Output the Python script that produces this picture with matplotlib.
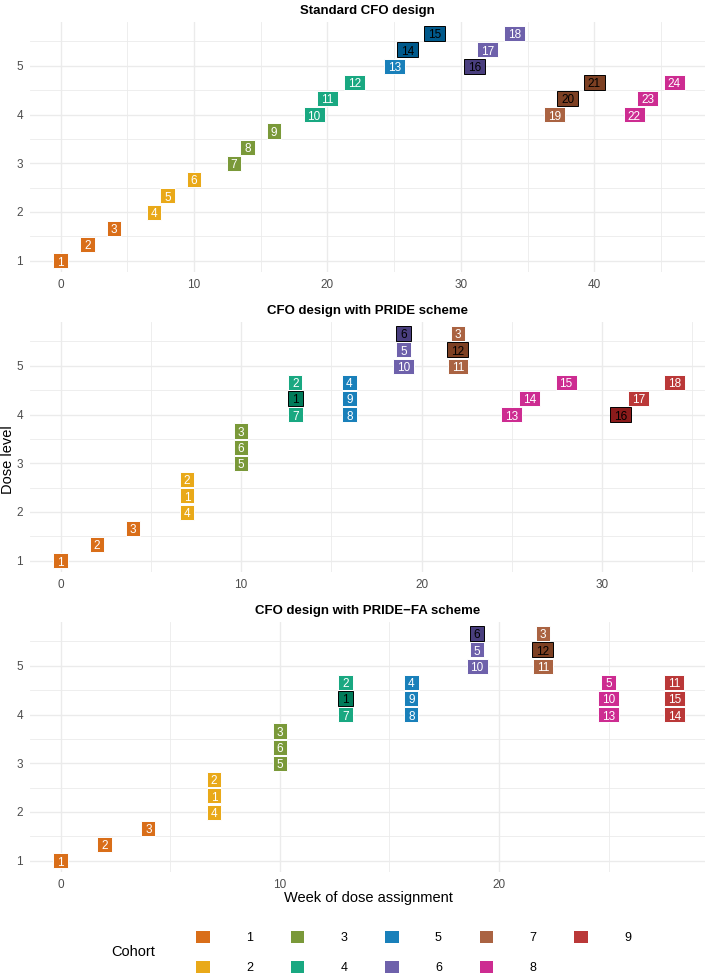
import numpy as np
import matplotlib
matplotlib.use("Agg")
import matplotlib.pyplot as plt
from matplotlib.patches import Patch
from matplotlib.path import Path
from matplotlib.colors import to_rgb
from matplotlib.transforms import ScaledTranslation

plt.rcParams['font.family'] = ['Liberation Sans', 'DejaVu Sans']

# cohort colours
cohort_colors = ["#D55E00", "#E69F00", "#6B8E23", "#009E73", "#0072B2",
                 "#5E4FA2", "#A0522D", "#C71585", "#B22222"]
cohort_names = ["1", "2", "3", "4", "5", "6", "7", "8", "9"]

# panel 1: standard CFO design
p1_title = "Standard CFO design"
p1_week = [0, 2, 4, 7, 8, 10, 13, 14, 16, 19, 20, 22,
           25, 26, 28, 31, 32, 34, 37, 38, 40, 43, 44, 46]
p1_dose = [1, 1, 1, 2, 2, 2, 3, 3, 3, 4, 4, 4,
           5, 5, 5, 5, 5, 5, 4, 4, 4, 4, 4, 4]
p1_slot = [0, 1, 2] * 8
p1_label = list(range(1, 25))
p1_cohort = [1, 1, 1, 2, 2, 2, 3, 3, 3, 4, 4, 4,
             5, 5, 5, 6, 6, 6, 7, 7, 7, 8, 8, 8]
p1_dlt = [0, 0, 0, 0, 0, 0, 0, 0, 0, 0, 0, 0,
          0, 1, 1, 1, 0, 0, 0, 1, 1, 0, 0, 0]
p1_xticks = [0, 10, 20, 30, 40]

# panel 2: PRIDE scheme
p2_title = "CFO design with PRIDE scheme"
p2_week = [0, 2, 4, 7, 7, 7, 10, 10, 10, 13, 13, 13, 16, 16, 16,
           19, 19, 19, 22, 22, 22, 25, 26, 28, 31, 32, 34]
p2_dose = [1, 1, 1, 2, 2, 2, 3, 3, 3, 4, 4, 4, 4, 4, 4,
           5, 5, 5, 5, 5, 5, 4, 4, 4, 4, 4, 4]
p2_slot = [0, 1, 2] * 9
p2_label = [1, 2, 3, 4, 1, 2, 5, 6, 3, 7, 1, 2, 8, 9, 4,
            10, 5, 6, 11, 12, 3, 13, 14, 15, 16, 17, 18]
p2_cohort = [1, 1, 1, 2, 2, 2, 3, 3, 3, 4, 4, 4, 5, 5, 5,
             6, 6, 6, 7, 7, 7, 8, 8, 8, 9, 9, 9]
p2_dlt = [0, 0, 0, 0, 0, 0, 0, 0, 0, 0, 1, 0, 0, 0, 0,
          0, 0, 1, 0, 1, 0, 0, 0, 0, 1, 0, 0]
p2_xticks = [0, 10, 20, 30]

# panel 3: PRIDE-FA scheme
p3_title = "CFO design with PRIDE\u2212FA scheme"
p3_week = [0, 2, 4, 7, 7, 7, 10, 10, 10, 13, 13, 13, 16, 16, 16,
           19, 19, 19, 22, 22, 22, 25, 25, 25, 28, 28, 28]
p3_dose = [1, 1, 1, 2, 2, 2, 3, 3, 3, 4, 4, 4, 4, 4, 4,
           5, 5, 5, 5, 5, 5, 4, 4, 4, 4, 4, 4]
p3_slot = [0, 1, 2] * 9
p3_label = [1, 2, 3, 4, 1, 2, 5, 6, 3, 7, 1, 2, 8, 9, 4,
            10, 5, 6, 11, 12, 3, 13, 10, 5, 14, 15, 11]
p3_cohort = [1, 1, 1, 2, 2, 2, 3, 3, 3, 4, 4, 4, 5, 5, 5,
             6, 6, 6, 7, 7, 7, 8, 8, 8, 9, 9, 9]
p3_dlt = [0, 0, 0, 0, 0, 0, 0, 0, 0, 0, 1, 0, 0, 0, 0,
          0, 0, 1, 0, 1, 0, 0, 0, 0, 0, 0, 0]
p3_xticks = [0, 10, 20]

W, H = 709, 974
fig = plt.figure(figsize=(W / 100, H / 100), dpi=100)


def lighten(c, a=0.9):
    r = np.array(to_rgb(c))
    return tuple(r * a + (1 - a))


def darken(c, f=0.78):
    return tuple(np.array(to_rgb(c)) * f)


# label box: wider sideways, shifted up so digits sit in the middle
def label_box(x0, y0, width, height, mutation_size):
    px = 0.33 * mutation_size
    x0, x1 = x0 - px, x0 + width + px
    y1 = y0 + height + 0.28 * mutation_size
    y0 = y0 + 0.02 * mutation_size
    return Path([(x0, y0), (x1, y0), (x1, y1), (x0, y1), (x0, y0)], closed=True)


def panel(top, title, week, dose, slot, label, cohort, dlt, xticks):
    ax = fig.add_axes([30 / W, 1 - (top + 250) / H, 675 / W, 250 / H])
    xmax = max(week)
    ax.set_xlim(-0.05 * xmax, xmax * 1.05)
    ax.set_ylim(1 - 0.05 * 14 / 3, 17 / 3 + 0.05 * 14 / 3)
    ax.set_xticks(xticks)
    ax.set_xticks(np.arange(5, xmax * 1.05, 10), minor=True)
    ax.set_yticks([1, 2, 3, 4, 5])
    ax.set_yticks([1.5, 2.5, 3.5, 4.5, 5.5], minor=True)
    ax.grid(True, which='major', color='#EBEBEB', lw=1.0)
    ax.grid(True, which='minor', color='#EBEBEB', lw=0.6)
    ax.set_axisbelow(True)
    for s in ax.spines.values():
        s.set_visible(False)
    ax.tick_params(which='both', length=0, labelsize=8.5, labelcolor='#4D4D4D', pad=5)
    ax.set_title(title, fontsize=9.5, fontweight='bold', pad=6)
    shift = ax.transData + ScaledTranslation(0, -0.02, fig.dpi_scale_trans)
    for w, d, s, lab, c, t in zip(week, dose, slot, label, cohort, dlt):
        col = cohort_colors[c - 1]
        if t:
            fc, ec, tc = darken(col), 'black', 'black'
        else:
            fc, ec, tc = lighten(col), 'white', 'white'
        ax.text(w, d + s / 3, str(lab), ha='center', va='center',
                fontsize=8.5, color=tc, transform=shift,
                bbox=dict(boxstyle=label_box, fc=fc, ec=ec, lw=0.7))
    return ax


panel(22, p1_title, p1_week, p1_dose, p1_slot, p1_label, p1_cohort, p1_dlt, p1_xticks)
panel(322, p2_title, p2_week, p2_dose, p2_slot, p2_label, p2_cohort, p2_dlt, p2_xticks)
panel(622, p3_title, p3_week, p3_dose, p3_slot, p3_label, p3_cohort, p3_dlt, p3_xticks)

fig.text(8 / W, 1 - 460 / H, "Dose level", rotation=90, ha='center', va='center', fontsize=10.5)
fig.text(368 / W, 1 - 898 / H, "Week of dose assignment", ha='center', va='center', fontsize=10.5)

handles = [Patch(fc=lighten(c), ec='none') for c in cohort_colors]
fig.legend(handles, cohort_names, ncol=5, loc='upper left',
           bbox_to_anchor=(196 / W, 1 - 931 / H), frameon=False,
           borderpad=0, borderaxespad=0, fontsize=9,
           handlelength=1.1, handleheight=1.1, handletextpad=2.9,
           columnspacing=3.0, labelspacing=1.3)
fig.text(133 / W, 1 - 952 / H, "Cohort", ha='center', va='center', fontsize=10.5)

fig.savefig("out.png", dpi=100)
